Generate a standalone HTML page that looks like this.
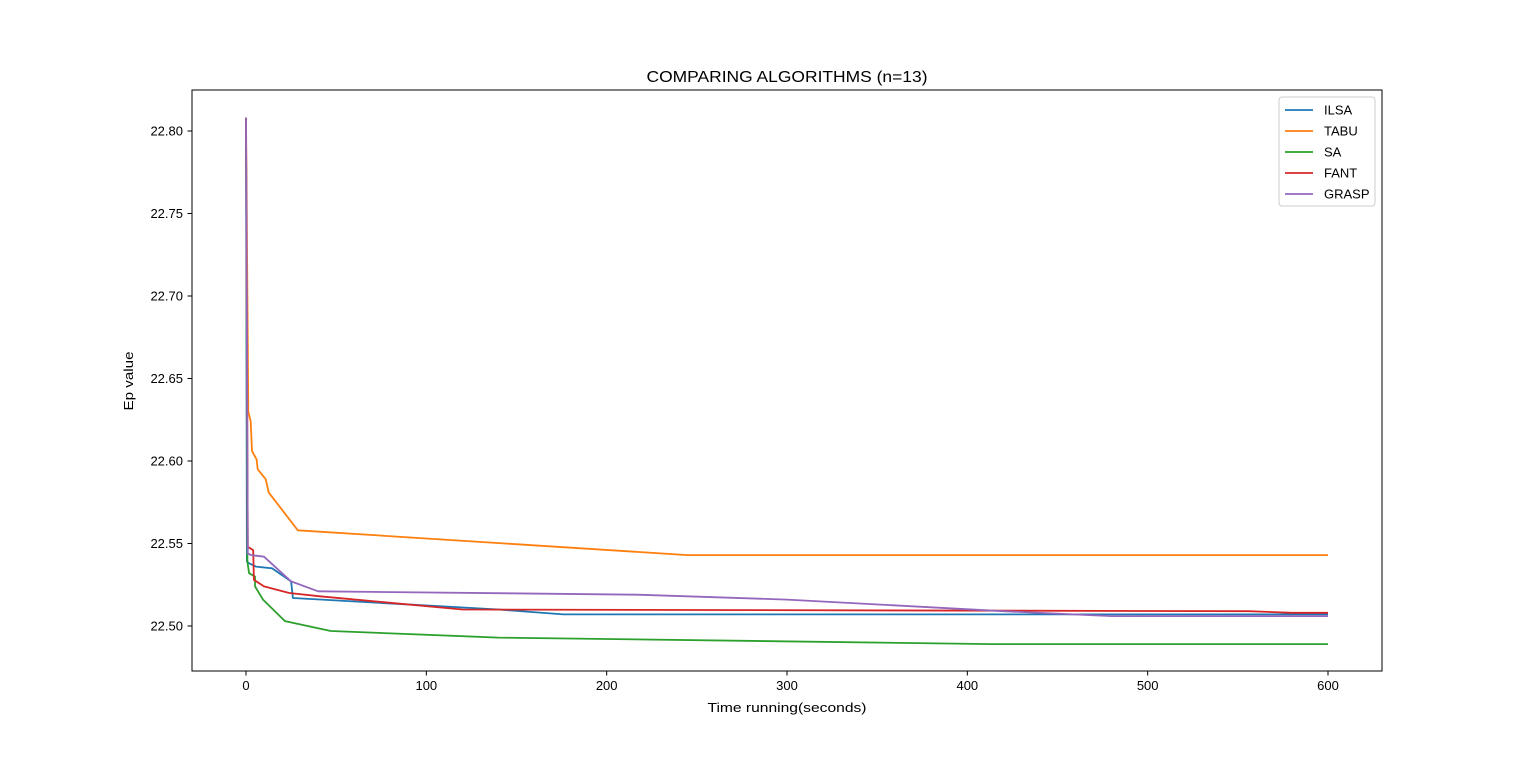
<!DOCTYPE html>
<html><head><meta charset="utf-8"><style>
body{margin:0;background:#fff;}
svg text{font-family:"Liberation Sans","DejaVu Sans",sans-serif;fill:#000;}
</style></head><body>
<svg id="chart" width="1536" height="754" xmlns="http://www.w3.org/2000/svg">
<rect width="1536" height="754" fill="#fff"/>
<text x="787" y="82" font-size="16" text-anchor="middle" textLength="281" lengthAdjust="spacingAndGlyphs">COMPARING ALGORITHMS (n=13)</text>
<text x="787" y="712" font-size="13" text-anchor="middle" textLength="159" lengthAdjust="spacingAndGlyphs">Time running(seconds)</text>
<text x="133" y="381" font-size="13" text-anchor="middle" textLength="59" lengthAdjust="spacingAndGlyphs" transform="rotate(-90 133 381)">Ep value</text>
<g id="ticks"></g>
<g id="series"></g>
<rect x="192" y="90" width="1190" height="581" fill="none" stroke="#000" stroke-width="1"/>
<g id="legend"></g>
</svg>
<script>
const xTicks=[0,100,200,300,400,500,600];
const yTicks=[22.50,22.55,22.60,22.65,22.70,22.75,22.80];
const names=["ILSA","TABU","SA","FANT","GRASP"];
const colors=["#1f77b4","#ff7f0e","#2ca02c","#d62728","#9467bd"];
const ilsaX=[0,0.5,1.7,5.5,14.4,25,26,140,176,600];
const ilsaY=[22.808,22.539,22.538,22.536,22.535,22.527,22.517,22.510,22.507,22.507];
const tabuX=[0,1.3,2.6,3.3,5.9,6.5,10.9,12.6,28.7,245,600];
const tabuY=[22.808,22.630,22.624,22.606,22.601,22.595,22.589,22.581,22.558,22.543,22.543];
const saX=[0,0.8,1.7,5,5,9.4,21.6,47,140,414,600];
const saY=[22.808,22.539,22.532,22.530,22.524,22.516,22.503,22.497,22.493,22.489,22.489];
const fantX=[0,1,4,4.4,10,24,41,120,556,580,600];
const fantY=[22.808,22.548,22.546,22.528,22.524,22.520,22.518,22.510,22.509,22.508,22.508];
const graspX=[0,1,2.8,10,25,40,217,300,420,480,600];
const graspY=[22.808,22.544,22.543,22.542,22.527,22.521,22.519,22.516,22.509,22.506,22.506];
const allX=[ilsaX,tabuX,saX,fantX,graspX];
const allY=[ilsaY,tabuY,saY,fantY,graspY];
const NS="http://www.w3.org/2000/svg";
const sx=v=>246+v*(1328-246)/600;
const sy=v=>131+(22.80-v)*1650;
function mk(t,a,p){const e=document.createElementNS(NS,t);for(const k in a)e.setAttribute(k,a[k]);p.appendChild(e);return e;}
const tg=document.getElementById('ticks');
xTicks.forEach(v=>{const x=sx(v);
 const l=mk('line',{x1:x,x2:x,y1:671,y2:675.5,stroke:'#000'},tg);
 
 
 const t=mk('text',{x:x,y:690,'font-size':13,'text-anchor':'middle'},tg);t.textContent=v;
 
 
});
yTicks.forEach(v=>{const y=sy(v);
 const l=mk('line',{x1:187.5,x2:192,y1:y,y2:y,stroke:'#000'},tg);
 
 
 const t=mk('text',{x:183,y:y+4.5,'font-size':13,'text-anchor':'end'},tg);t.textContent=v.toFixed(2);
 
 
});
const sg=document.getElementById('series');
allX.forEach((xs,i)=>{
 const pts=xs.map((x,j)=>sx(x).toFixed(1)+','+sy(allY[i][j]).toFixed(1)).join(' ');
 const p=mk('polyline',{points:pts,fill:'none',stroke:colors[i],'stroke-width':1.8,'stroke-linejoin':'round'},sg);
 
 
});
const lg=document.getElementById('legend');
const box=mk('rect',{x:1279,y:97,width:96,height:109,rx:3,fill:'#fff',stroke:'#ccc'},lg);


names.forEach((n,i)=>{const y=110+i*21;
 const l=mk('line',{x1:1285,x2:1313,y1:y,y2:y,stroke:colors[i],'stroke-width':1.8},lg);
 
 
 const t=mk('text',{x:1324,y:y+4.5,'font-size':13},lg);t.textContent=n;
 
 
});
</script>
</body></html>
